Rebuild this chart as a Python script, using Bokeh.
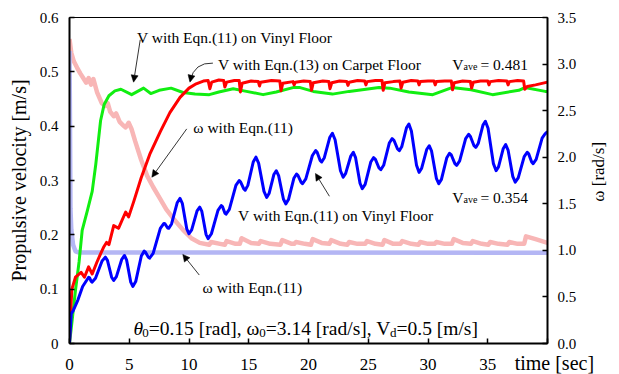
import numpy as np
from bokeh.plotting import figure
from bokeh.models import Range1d, LinearAxis, FixedTicker, Label, Arrow, NormalHead
from bokeh.core.properties import value
from bokeh.embed import file_html
from bokeh.resources import INLINE

SERIF = "Liberation Serif"

# ---------------- data ----------------
# V with Eqn.(11) on Vinyl Floor (green), left axis [m/s]
green_vinyl = [(0, 0), (0.22, 0.042), (0.5, 0.098), (0.8, 0.15), (1.06, 0.208), (1.5, 0.245),
               (1.9, 0.28), (2.2, 0.33), (2.6, 0.41), (2.9, 0.44), (3.3, 0.456), (3.8, 0.465),
               (4.3, 0.468), (5.2, 0.458), (6.2, 0.470), (6.8, 0.460), (7.5, 0.466), (8.5, 0.470),
               (9.5, 0.462), (10.5, 0.459), (11.7, 0.458), (12.5, 0.463), (13.7, 0.469), (14.6, 0.465),
               (16.2, 0.458), (17.3, 0.463), (18.7, 0.471), (19.3, 0.471), (20.4, 0.464), (22.0, 0.459),
               (23.4, 0.464), (25.9, 0.471), (26.8, 0.470), (28.4, 0.463), (30.4, 0.458), (32.0, 0.471),
               (33.6, 0.467), (35.4, 0.458), (37.6, 0.466), (38.1, 0.471), (39.8, 0.464), (40, 0.464)]

# V with Eqn.(13) on Carpet Floor (red), left axis [m/s]
red_carpet = [(0, 0), (0.1, 0.06), (0.2, 0.10), (0.5, 0.122), (0.97, 0.131), (1.25, 0.122), (1.6, 0.141),
              (1.9, 0.128), (2.3, 0.150), (2.6, 0.165), (2.85, 0.177), (3.1, 0.186), (3.3, 0.182),
              (3.7, 0.217), (4.1, 0.212), (4.7, 0.242), (4.95, 0.233), (5.4, 0.263), (6.0, 0.305),
              (6.75, 0.350), (7.6, 0.390), (8.4, 0.425), (9.25, 0.453), (10.0, 0.470), (10.6, 0.478),
              (11.2, 0.483), (11.6, 0.484), (11.75, 0.469), (11.9, 0.481), (12.5, 0.485), (12.9, 0.484),
              (13.0, 0.472), (13.15, 0.481), (13.8, 0.484), (14.2, 0.484), (14.3, 0.463), (14.45, 0.479),
              (15.2, 0.483), (15.8, 0.482), (15.9, 0.474), (16.0, 0.481), (16.9, 0.484), (17.6, 0.483),
              (17.7, 0.465), (17.85, 0.479), (18.7, 0.482), (18.8, 0.476), (18.9, 0.481), (19.6, 0.483),
              (20.15, 0.482), (20.25, 0.466), (20.4, 0.480), (21.2, 0.483), (21.7, 0.482), (21.8, 0.469),
              (21.95, 0.480), (22.6, 0.483), (23.2, 0.482), (23.3, 0.475), (23.4, 0.481), (24.1, 0.484),
              (24.7, 0.483), (24.8, 0.476), (24.9, 0.482), (25.6, 0.484), (26.15, 0.484), (26.25, 0.466),
              (26.4, 0.480), (27.1, 0.482), (27.65, 0.483), (27.75, 0.470), (27.9, 0.481), (28.6, 0.484),
              (29.15, 0.483), (29.25, 0.476), (29.35, 0.482), (30.0, 0.483), (30.5, 0.483), (30.6, 0.476),
              (30.7, 0.482), (31.4, 0.483), (31.95, 0.483), (32.05, 0.467), (32.2, 0.480), (32.9, 0.483),
              (33.55, 0.482), (33.65, 0.470), (33.8, 0.481), (34.4, 0.483), (35.0, 0.483), (35.1, 0.476),
              (35.2, 0.482), (35.9, 0.484), (36.6, 0.483), (36.7, 0.476), (36.8, 0.482), (37.5, 0.484),
              (38.0, 0.483), (38.1, 0.468), (38.3, 0.473), (39.0, 0.476), (40, 0.481)]

# V with Eqn.(11) on Vinyl Floor (blue), left axis [m/s]
blue_vinyl = [(0, 0), (0.15, 0.055), (0.3, 0.06), (0.7, 0.08), (1.1, 0.105), (1.6, 0.122),
              (1.675, 0.121), (1.825, 0.114), (1.9, 0.113), (2.175, 0.120), (2.725, 0.152), (3.0, 0.159),
              (3.175, 0.153), (3.525, 0.122), (3.7, 0.116), (3.925, 0.123), (4.375, 0.155), (4.6, 0.162),
              (4.775, 0.154), (5.125, 0.113), (5.3, 0.105), (5.54, 0.114), (6.01, 0.161), (6.25, 0.170),
              (6.36, 0.168), (6.59, 0.159), (6.7, 0.157), (7.0, 0.166), (7.6, 0.212), (7.9, 0.221),
              (8.0, 0.220), (8.2, 0.213), (8.3, 0.212), (8.54, 0.220), (9.01, 0.259), (9.25, 0.267),
              (9.44, 0.258), (9.81, 0.211), (10.0, 0.202), (10.225, 0.209), (10.675, 0.244), (10.9, 0.251),
              (11.075, 0.243), (11.425, 0.201), (11.6, 0.193), (11.875, 0.202), (12.425, 0.245),
              (12.7, 0.254), (12.8, 0.252), (13.0, 0.240), (13.1, 0.238), (13.375, 0.247), (13.925, 0.291),
              (14.2, 0.300), (14.325, 0.297), (14.575, 0.285), (14.7, 0.282), (14.925, 0.291),
              (15.375, 0.334), (15.6, 0.343), (15.825, 0.332), (16.275, 0.280), (16.5, 0.269),
              (16.7, 0.276), (17.1, 0.311), (17.3, 0.318), (17.5, 0.309), (17.9, 0.266), (18.1, 0.257),
              (18.325, 0.265), (18.775, 0.304), (19.0, 0.312), (19.125, 0.309), (19.375, 0.297),
              (19.5, 0.294), (19.775, 0.303), (20.325, 0.346), (20.6, 0.355), (20.725, 0.352),
              (20.975, 0.337), (21.1, 0.334), (21.325, 0.342), (21.775, 0.379), (22.0, 0.387),
              (22.225, 0.375), (22.675, 0.318), (22.9, 0.306), (23.11, 0.313), (23.54, 0.345),
              (23.75, 0.352), (23.94, 0.342), (24.31, 0.295), (24.5, 0.285), (24.74, 0.293),
              (25.21, 0.334), (25.45, 0.342), (25.6, 0.339), (25.9, 0.323), (26.05, 0.320),
              (26.29, 0.328), (26.76, 0.369), (27.0, 0.377), (27.15, 0.374), (27.45, 0.358),
              (27.6, 0.355), (27.8, 0.362), (28.2, 0.397), (28.4, 0.404), (28.61, 0.391), (29.04, 0.328),
              (29.25, 0.315), (29.46, 0.322), (29.89, 0.357), (30.1, 0.364), (30.3, 0.354), (30.7, 0.304),
              (30.9, 0.294), (31.125, 0.302), (31.575, 0.342), (31.8, 0.350), (31.95, 0.347),
              (32.25, 0.331), (32.4, 0.328), (32.65, 0.336), (33.15, 0.377), (33.4, 0.385),
              (33.55, 0.381), (33.85, 0.364), (34.0, 0.361), (34.2, 0.368), (34.6, 0.402), (34.8, 0.409),
              (35.025, 0.396), (35.475, 0.331), (35.7, 0.318), (35.9, 0.325), (36.3, 0.359), (36.5, 0.366),
              (36.7, 0.356), (37.1, 0.307), (37.3, 0.297), (37.55, 0.305), (38.05, 0.344), (38.3, 0.352),
              (38.425, 0.349), (38.675, 0.334), (38.8, 0.331), (39.05, 0.339), (39.55, 0.378),
              (39.8, 0.386), (40, 0.39)]

# omega (pink), right axis [rad/s]
omega_pink = [(0, 3.27), (0.15, 3.12), (0.36, 3.03), (0.64, 2.96), (0.9, 2.90), (1.2, 2.84), (1.4, 2.80),
              (1.6, 2.85), (1.8, 2.78), (2.0, 2.84), (2.3, 2.70), (2.7, 2.58), (3.0, 2.55), (3.2, 2.58),
              (3.4, 2.49), (3.7, 2.44), (3.9, 2.47), (4.2, 2.38), (4.5, 2.34), (4.7, 2.32), (4.95, 2.37),
              (5.2, 2.30), (5.5, 2.17), (6.0, 1.97), (6.5, 1.80), (7.0, 1.68), (7.6, 1.55), (8.1, 1.44),
              (8.7, 1.34), (9.5, 1.22), (10.2, 1.13), (10.9, 1.08), (11.7, 1.06), (11.85, 1.09),
              (12.6, 1.07), (13.0, 1.06), (13.15, 1.10), (13.9, 1.07), (14.25, 1.07), (14.4, 1.13),
              (15.2, 1.08), (15.85, 1.07), (16.0, 1.10), (16.8, 1.07), (17.65, 1.06), (17.8, 1.11),
              (18.6, 1.07), (18.8, 1.07), (18.95, 1.09), (19.7, 1.07), (20.2, 1.06), (20.35, 1.12),
              (21.1, 1.08), (21.75, 1.07), (21.9, 1.11), (22.7, 1.07), (23.25, 1.06), (23.4, 1.09),
              (24.1, 1.07), (24.75, 1.07), (24.9, 1.10), (25.6, 1.07), (26.2, 1.06), (26.35, 1.11),
              (27.1, 1.07), (27.7, 1.07), (27.85, 1.10), (28.6, 1.07), (29.2, 1.06), (29.35, 1.09),
              (30.0, 1.07), (30.55, 1.07), (30.7, 1.09), (31.4, 1.07), (32.0, 1.07), (32.15, 1.12),
              (32.9, 1.08), (33.6, 1.07), (33.75, 1.10), (34.5, 1.07), (35.05, 1.06), (35.2, 1.09),
              (35.9, 1.07), (36.65, 1.06), (36.8, 1.09), (37.5, 1.07), (38.05, 1.07), (38.2, 1.15),
              (39.0, 1.12), (40, 1.08)]

# omega (lavender), right axis [rad/s]
omega_lav = [(0, 3.14), (0.03, 2.6), (0.08, 1.45), (0.15, 1.22), (0.3, 1.06), (0.5, 0.99),
             (0.8, 0.977), (40, 0.975)]

x_ticks = [0, 5, 10, 15, 20, 25, 30, 35, 40]
x_tick_labels = ["0", "5", "10", "15", "20", "25", "30", "35", ""]
v_ticks = [0, 0.1, 0.2, 0.3, 0.4, 0.5, 0.6]
v_tick_labels = ["0", "0.1", "0.2", "0.3", "0.4", "0.5", "0.6"]
w_ticks = [0, 0.5, 1.0, 1.5, 2.0, 2.5, 3.0, 3.5]
w_tick_labels = ["0.0", "0.5", "1.0", "1.5", "2.0", "2.5", "3.0", "3.5"]

# ---------------- figure ----------------
p = figure(width=619, height=374, output_backend="svg", toolbar_location=None,
           x_range=Range1d(0, 40), y_range=Range1d(0, 0.6),
           min_border_left=69, min_border_right=72, min_border_top=17, min_border_bottom=31)
p.extra_y_ranges = {"w": Range1d(0, 3.5)}
p.xgrid.visible = False
p.ygrid.visible = False
p.outline_line_color = "black"
p.outline_line_width = 1
p.outline_line_alpha = 1
p.background_fill_color = "white"
p.border_fill_color = "white"

right = LinearAxis(y_range_name="w")
p.add_layout(right, "right")


def style_axis(ax, ticks, labels, standoff, size="15px"):
    ax.ticker = FixedTicker(ticks=ticks)
    ax.major_label_overrides = {t: l for t, l in zip(ticks, labels)}
    ax.major_tick_in = 5
    ax.major_tick_out = 0
    ax.minor_tick_line_color = None
    ax.axis_line_width = 2
    ax.axis_line_color = "black"
    ax.major_tick_line_width = 1.5
    ax.major_tick_line_color = "black"
    ax.major_label_text_font = SERIF
    ax.major_label_text_font_size = size
    ax.major_label_text_color = "black"
    ax.major_label_standoff = standoff


style_axis(p.below[0], x_ticks, x_tick_labels, 15, "17px")
p.below[0].major_label_text_line_height = 0.8
style_axis(p.left[0], v_ticks, v_tick_labels, 11)
style_axis(right, w_ticks, w_tick_labels, 10)

p.left[0].axis_label = "Propulsive velocity [m/s]"
p.left[0].axis_label_text_font = SERIF
p.left[0].axis_label_text_font_size = "20px"
p.left[0].axis_label_text_font_style = "normal"
p.left[0].axis_label_text_color = "black"
p.left[0].axis_label_standoff = 7


def xy(pairs):
    t, v = zip(*pairs)
    return list(t), list(v)


t, v = xy(omega_pink)
p.line(t, v, y_range_name="w", line_color="#f8b6b6", line_width=4.5, line_join="round")
t, v = xy(omega_lav)
p.line(t, v, y_range_name="w", line_color="#b4b6f4", line_width=4.5, line_join="round")
t, v = xy(green_vinyl)
p.line(t, v, line_color="#11ee11", line_width=3, line_join="round")
t, v = xy(red_carpet)
p.line(t, v, line_color="#ff0000", line_width=3, line_join="round")
t, v = xy(blue_vinyl)
p.line(t, v, line_color="#0000ff", line_width=3, line_join="round")

# ---------------- annotations ----------------
ANN = "15.5px"


def label(x, y, text, size=ANN, style="normal", **kw):
    p.add_layout(Label(x=x, y=y, text=text, text_font=SERIF, text_font_size=size,
                       text_font_style=style, text_color="black", text_baseline="alphabetic", **kw))


def arrow(x0, y0, x1, y1):
    p.add_layout(Arrow(end=NormalHead(size=7, line_color="black", fill_color="black", line_width=0.5),
                       x_start=x0, y_start=y0, x_end=x1, y_end=y1,
                       line_color="black", line_width=0.8))


label(5.64, 0.5627, "V with Eqn.(11) on Vinyl Floor")
arrow(5.92, 0.559, 5.36, 0.481)

label(12.42, 0.5135, "V with Eqn.(13) on Carpet Floor")
p.quadratic(x0=[12.0], y0=[0.516], x1=[10.1], y1=[0.484], cx=[10.45], cy=[0.5177],
            line_color="black", line_width=0.8)
arrow(10.16, 0.489, 10.08, 0.481)

label(32.03, 0.5135, "V")
label(32.98, 0.509, "ave", size="10px")
label(34.39, 0.5135, "= 0.481")

label(10.36, 0.397, "ω with Eqn.(11)")
arrow(9.81, 0.395, 6.89, 0.306)

label(14.11, 0.2356, "V with Eqn.(11) on Vinyl Floor")
arrow(21.75, 0.271, 20.58, 0.313)

label(32.03, 0.2693, "V")
label(32.98, 0.2647, "ave", size="10px")
label(34.39, 0.2693, "= 0.354")

label(11.14, 0.1036, "ω with Eqn.(11)")
arrow(10.86, 0.126, 9.48, 0.164)

# parameter line with subscripts (run layout using Times-metric widths)
W = {' ': .25, '.': .25, ',': .25, '=': .564, '[': .333, ']': .333, '(': .333, ')': .333, '/': .278,
     'a': .444, 'c': .444, 'd': .5, 'e': .444, 'm': .778, 'r': .333, 's': .389, 'v': .5, 'V': .722,
     'ω': .69, 'θ': .45}
runs = [("θ", 19.5, "italic", 0), ("0", 13, "normal", 4), ("=0.15 [rad], ω", 19.5, "normal", 0),
        ("0", 13, "normal", 4), ("=3.14 [rad/s], V", 19.5, "normal", 0), ("d", 13, "normal", 4),
        ("=0.5 [m/s]", 19.5, "normal", 0)]
px = 133.3
base_py = 328.0
for txt, sz, st, dy in runs:
    label((px - 69) / 12.0, (343 - (base_py + dy)) * 0.6 / 326.0, txt, size=f"{sz}px", style=st)
    px += sum(W.get(ch, 0.5) for ch in txt) * sz

# texts outside the frame: text glyphs on the overlay level (not clipped to the frame)
p.text(x=[37.25], y=[-0.035], text=["time [sec]"], text_font=value(SERIF),
       text_font_size=value("20px"), text_baseline="alphabetic", text_align="left",
       text_color="black", level="overlay")
p.text(x=[44.3], y=[0.316], text=["ω [rad/s]"], angle=np.pi / 2, text_font=value(SERIF),
       text_font_size=value("17px"), text_baseline="middle", text_align="center",
       text_color="black", level="overlay")

open("out.html", "w").write(file_html(p, INLINE))
